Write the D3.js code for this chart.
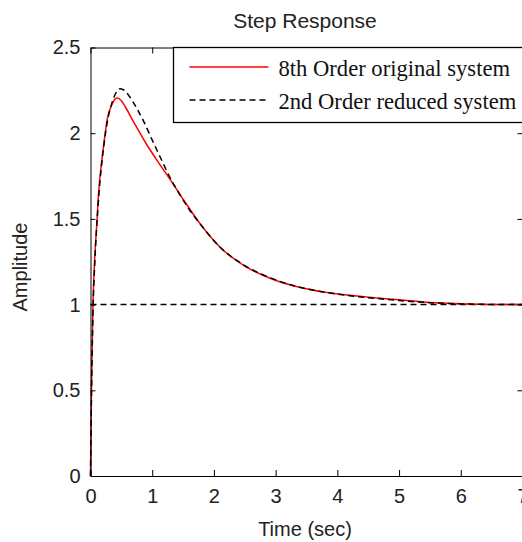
<!DOCTYPE html>
<html>
<head>
<meta charset="utf-8">
<script src="https://cdn.jsdelivr.net/npm/d3@7"></script>
<style>
    body { margin: 0; background: #fff; }
    #chart { width: 522px; height: 542px; overflow: hidden; }
    .axis text { font-family: "Liberation Sans", Arial, sans-serif; font-size: 20px; fill: #222; }
    .axis path, .axis line { stroke: #000; }
</style>
</head>
<body>
<div id="chart"></div>
<script>
// step response of the 8th order system (time in sec, amplitude)
const timeOriginal = [0, 0.015, 0.04, 0.07, 0.1, 0.135, 0.17, 0.21, 0.27, 0.35, 0.43, 0.5, 0.57, 0.7, 0.9, 1.1, 1.3, 1.5, 1.8, 2.1, 2.5, 2.9, 3.3, 3.8, 4.2, 4.6, 5.0, 5.5, 6.0, 6.5, 7.0];
const ampOriginal = [0, 0.5, 1.0, 1.28, 1.46, 1.67, 1.8, 1.92, 2.08, 2.17, 2.205, 2.19, 2.15, 2.065, 1.94, 1.83, 1.725, 1.615, 1.46, 1.335, 1.225, 1.155, 1.108, 1.072, 1.054, 1.04, 1.028, 1.012, 1.005, 1.001, 1.0];

// step response of the 2nd order reduced model
const timeReduced = [0, 0.015, 0.04, 0.07, 0.1, 0.14, 0.2, 0.27, 0.35, 0.42, 0.48, 0.55, 0.62, 0.75, 0.86, 1.0, 1.13, 1.29, 1.45, 1.6, 1.8, 2.1, 2.5, 2.9, 3.3, 3.8, 4.2, 4.6, 5.0, 5.5, 6.0, 6.5, 7.0];
const ampReduced = [0, 0.45, 0.95, 1.25, 1.45, 1.66, 1.88, 2.06, 2.18, 2.24, 2.26, 2.25, 2.22, 2.145, 2.07, 1.96, 1.86, 1.74, 1.64, 1.555, 1.46, 1.335, 1.228, 1.158, 1.11, 1.072, 1.052, 1.037, 1.024, 1.011, 1.004, 1.001, 1.0];

const steadyState = 1;
const xTicks = [0, 1, 2, 3, 4, 5, 6, 7];
const yTicks = [0, 0.5, 1, 1.5, 2, 2.5];
const legendLabels = ["8th Order original system", "2nd Order reduced system"];

class StepPlot {
    constructor(parentElement) {
        this.parentElement = parentElement;
        this.initVis();
    }

    initVis() {
        let vis = this;

        // plot box (right edge falls just off the picture)
        vis.margin = { top: 47.5, left: 90.5 };
        vis.width = 432;
        vis.height = 428.5;

        vis.svg = d3.select(`#${vis.parentElement}`)
            .append("svg")
            .attr("width", 522)
            .attr("height", 542);

        vis.g = vis.svg.append("g")
            .attr("transform", `translate(${vis.margin.left}, ${vis.margin.top})`);

        vis.xScale = d3.scaleLinear().domain([0, 7]).range([0, vis.width]);
        vis.yScale = d3.scaleLinear().domain([0, 2.5]).range([vis.height, 0]);

        vis.svg.append("text")
            .attr("x", 305)
            .attr("y", 28)
            .attr("text-anchor", "middle")
            .style("font-family", "'Liberation Sans', Arial, sans-serif")
            .style("font-size", "21px")
            .style("fill", "#222")
            .text("Step Response");

        vis.svg.append("text")
            .attr("text-anchor", "middle")
            .attr("transform", "translate(27, 267) rotate(-90)")
            .style("font-family", "'Liberation Sans', Arial, sans-serif")
            .style("font-size", "20px")
            .style("fill", "#222")
            .text("Amplitude");

        vis.svg.append("text")
            .attr("x", 305)
            .attr("y", 536)
            .attr("text-anchor", "middle")
            .style("font-family", "'Liberation Sans', Arial, sans-serif")
            .style("font-size", "20px")
            .style("fill", "#222")
            .text("Time (sec)");

        vis.updateVis();
    }

    updateVis() {
        let vis = this;

        const line = d3.line()
            .x(d => vis.xScale(d[0]))
            .y(d => vis.yScale(d[1]))
            .curve(d3.curveMonotoneX);

        // steady state reference
        vis.g.append("line")
            .attr("x1", vis.xScale(0))
            .attr("x2", vis.xScale(7))
            .attr("y1", vis.yScale(steadyState))
            .attr("y2", vis.yScale(steadyState))
            .attr("stroke", "#000")
            .attr("stroke-width", 1.5)
            .attr("stroke-dasharray", "6,4");

        vis.g.append("path")
            .datum(d3.zip(timeOriginal, ampOriginal))
            .attr("d", line)
            .attr("fill", "none")
            .attr("stroke", "#ff0000")
            .attr("stroke-width", 1.5);

        vis.g.append("path")
            .datum(d3.zip(timeReduced, ampReduced))
            .attr("d", line)
            .attr("fill", "none")
            .attr("stroke", "#000")
            .attr("stroke-width", 1.5)
            .attr("stroke-dasharray", "6,4");

        // axes, ticks pointing inward on all four sides
        vis.g.append("g")
            .attr("class", "axis")
            .attr("transform", `translate(0, ${vis.height})`)
            .call(d3.axisBottom(vis.xScale).tickValues(xTicks).tickSizeInner(-6).tickSizeOuter(0).tickPadding(13).tickFormat(d3.format("d")));

        vis.g.append("g")
            .attr("class", "axis")
            .call(d3.axisLeft(vis.yScale).tickValues(yTicks).tickSizeInner(-5).tickSizeOuter(0).tickPadding(10).tickFormat(d3.format("")));

        vis.g.append("g")
            .attr("class", "axis")
            .call(d3.axisTop(vis.xScale).tickValues(xTicks).tickSizeInner(-6).tickSizeOuter(0).tickFormat(""));

        vis.g.append("g")
            .attr("class", "axis")
            .attr("transform", `translate(${vis.width}, 0)`)
            .call(d3.axisRight(vis.yScale).tickValues(yTicks).tickSizeInner(-5).tickSizeOuter(0).tickFormat(""));

        vis.g.selectAll(".axis").attr("font-family", null).attr("font-size", null);

        // legend box
        const legend = vis.svg.append("g")
            .attr("transform", "translate(173.5, 47.5)");

        legend.append("rect")
            .attr("width", 400)
            .attr("height", 75)
            .attr("fill", "#fff")
            .attr("stroke", "#000")
            .attr("stroke-width", 1.3);

        const styles = [
            { stroke: "#ff0000", dash: null },
            { stroke: "#000", dash: "6,4" }
        ];

        legendLabels.forEach((label, i) => {
            const y = 19.5 + i * 33;
            legend.append("line")
                .attr("x1", 16)
                .attr("x2", 95)
                .attr("y1", y)
                .attr("y2", y)
                .attr("stroke", styles[i].stroke)
                .attr("stroke-width", 1.5)
                .attr("stroke-dasharray", styles[i].dash);

            legend.append("text")
                .attr("x", 105)
                .attr("y", y + 9)
                .style("font-family", "'Liberation Serif', 'Times New Roman', serif")
                .style("font-size", "22.6px")
                .style("fill", "#111")
                .text(label);
        });
    }
}

new StepPlot("chart");
</script>
</body>
</html>
